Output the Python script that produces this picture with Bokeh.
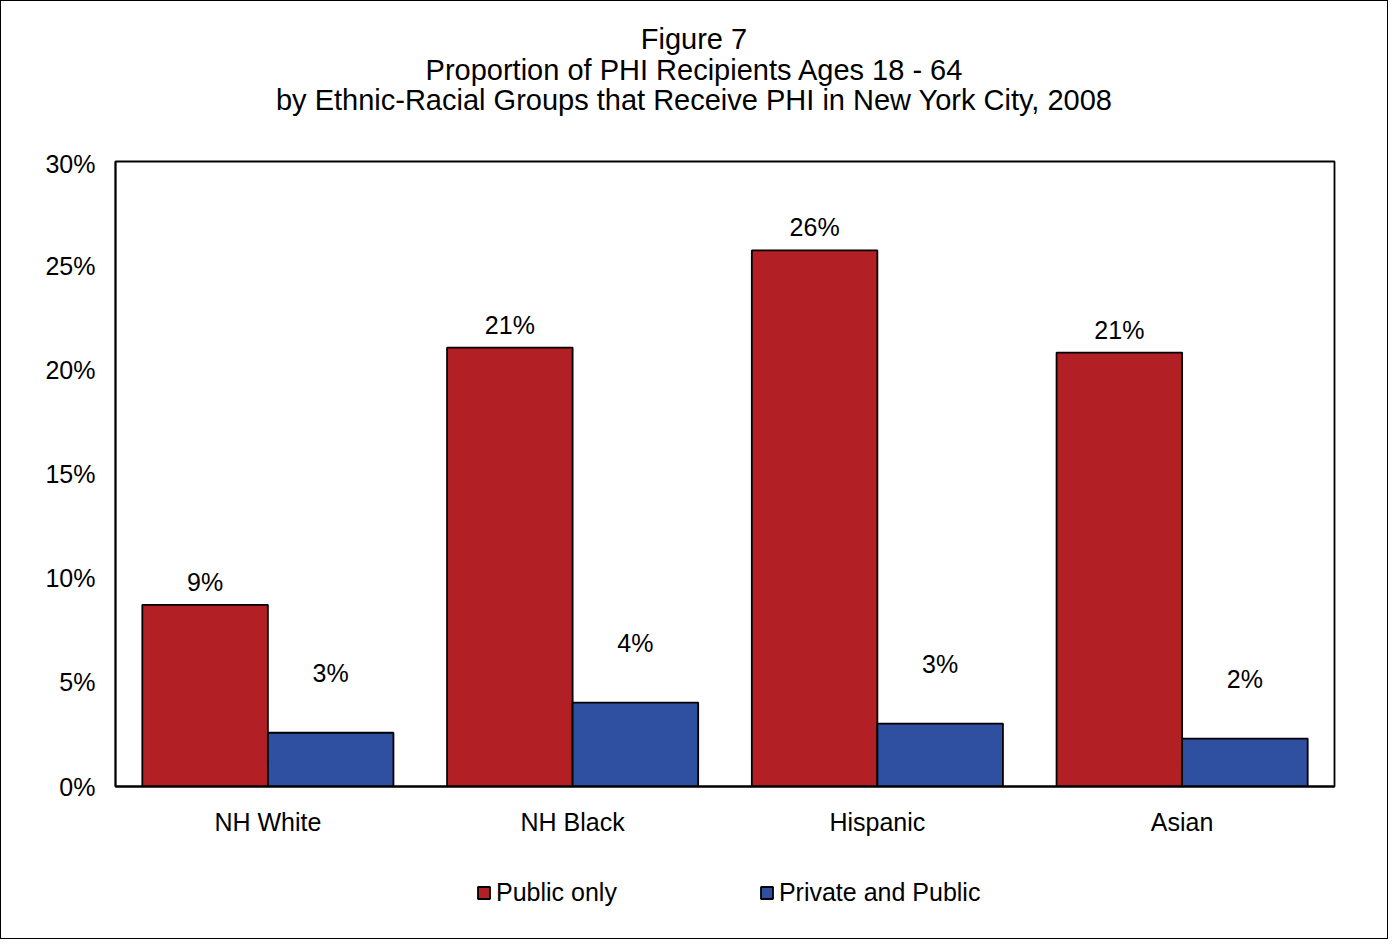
from bokeh.plotting import figure
from bokeh.layouts import column
from bokeh.models import (ColumnDataSource, FactorRange, NumeralTickFormatter, LabelSet,
                          Div, Legend, LegendItem, FixedTicker, Range1d)
from bokeh.transform import dodge
from bokeh.core.properties import value
from bokeh.embed import file_html
from bokeh.resources import INLINE

groups = ["NH White", "NH Black", "Hispanic", "Asian"]
public_only = [0.0872, 0.2107, 0.2573, 0.2083]
private_and_public = [0.0258, 0.0403, 0.0302, 0.0230]
series_names = ["Public only", "Private and Public"]
y_ticks = [0.0, 0.05, 0.10, 0.15, 0.20, 0.25, 0.30]
title_lines = ["Figure 7",
               "Proportion of PHI Recipients Ages 18 - 64",
               "by Ethnic-Racial Groups that Receive PHI in New York City, 2008"]

RED = "#B21F24"
BLUE = "#2F4FA0"
FONT = "Liberation Sans"
FS = "25px"

src = ColumnDataSource(dict(
    g=groups,
    pub=public_only,
    pp=private_and_public,
    pub_lbl=[f"{round(v*100):.0f}%" for v in public_only],
    pp_lbl=[f"{round(v*100):.0f}%" for v in private_and_public],
))

title = Div(text="<br>".join(title_lines), width=1386, height=148, margin=0,
            styles={"text-align": "center", "font-family": FONT, "font-size": "29px",
                    "line-height": "30.5px", "color": "black", "padding-top": "23px",
                    "box-sizing": "border-box"})

p = figure(width=1386, height=697, x_range=FactorRange(*groups), y_range=(0, 0.30),
           output_backend="svg", toolbar_location=None,
           min_border_left=114, min_border_right=53, min_border_top=12, min_border_bottom=60)

bw = 0.412
r1 = p.vbar(x=dodge("g", -bw/2, range=p.x_range), top="pub", width=bw, source=src,
            fill_color=RED, line_color="black", line_width=1.8)
r2 = p.vbar(x=dodge("g", bw/2, range=p.x_range), top="pp", width=bw, source=src,
            fill_color=BLUE, line_color="black", line_width=1.8)

l1 = LabelSet(x=dodge("g", -bw/2, range=p.x_range), y="pub", text="pub_lbl", source=src,
              y_offset=23, text_align="center", text_baseline="middle",
              text_font=value(FONT), text_font_size=FS, text_color="black")
l2 = LabelSet(x=dodge("g", bw/2, range=p.x_range), y="pp", text="pp_lbl", source=src,
              y_offset=60, text_align="center", text_baseline="middle",
              text_font=value(FONT), text_font_size=FS, text_color="black")
p.add_layout(l1)
p.add_layout(l2)

p.xgrid.visible = False
p.ygrid.visible = False
p.outline_line_color = "black"
p.outline_line_width = 1.8
p.outline_line_alpha = 1

p.yaxis.ticker = FixedTicker(ticks=y_ticks)
p.yaxis.formatter = NumeralTickFormatter(format="0%")
for ax in (p.xaxis, p.yaxis):
    ax.axis_line_color = "black"
    ax.axis_line_width = 1.8
    ax.major_tick_line_color = None
    ax.minor_tick_line_color = None
    ax.major_label_text_font = FONT
    ax.major_label_text_font_size = FS
    ax.major_label_text_color = "black"
p.xaxis.major_label_standoff = 15
p.yaxis.major_label_standoff = 14

# legend strip below the chart (its swatches use the same series styling)
lf = figure(width=1386, height=92, x_range=FactorRange(*groups), y_range=Range1d(1, 2),
            output_backend="svg", toolbar_location=None,
            min_border_left=0, min_border_right=0, min_border_top=0, min_border_bottom=0)
lf.axis.visible = False
lf.grid.visible = False
lf.outline_line_color = None
k1 = lf.vbar(x=dodge("g", -bw/2, range=lf.x_range), top="pub", width=bw, source=src,
             fill_color=RED, line_color="black", line_width=1.8, visible=False)
k2 = lf.vbar(x=dodge("g", bw/2, range=lf.x_range), top="pp", width=bw, source=src,
             fill_color=BLUE, line_color="black", line_width=1.8, visible=False)

legend = Legend(items=[LegendItem(label=series_names[0], renderers=[k1]),
                       LegendItem(label=series_names[1], renderers=[k2])],
                orientation="horizontal", location=(361, 31),
                label_text_font=FONT, label_text_font_size=FS, label_text_color="black",
                glyph_width=15, glyph_height=15, spacing=142, label_standoff=5,
                border_line_color=None, background_fill_alpha=0, margin=0, padding=0)
lf.add_layout(legend, "center")

layout = column(title, p, lf, spacing=0)
layout.styles = {"border": "1px solid black"}

open("out.html", "w").write(file_html(layout, INLINE))
